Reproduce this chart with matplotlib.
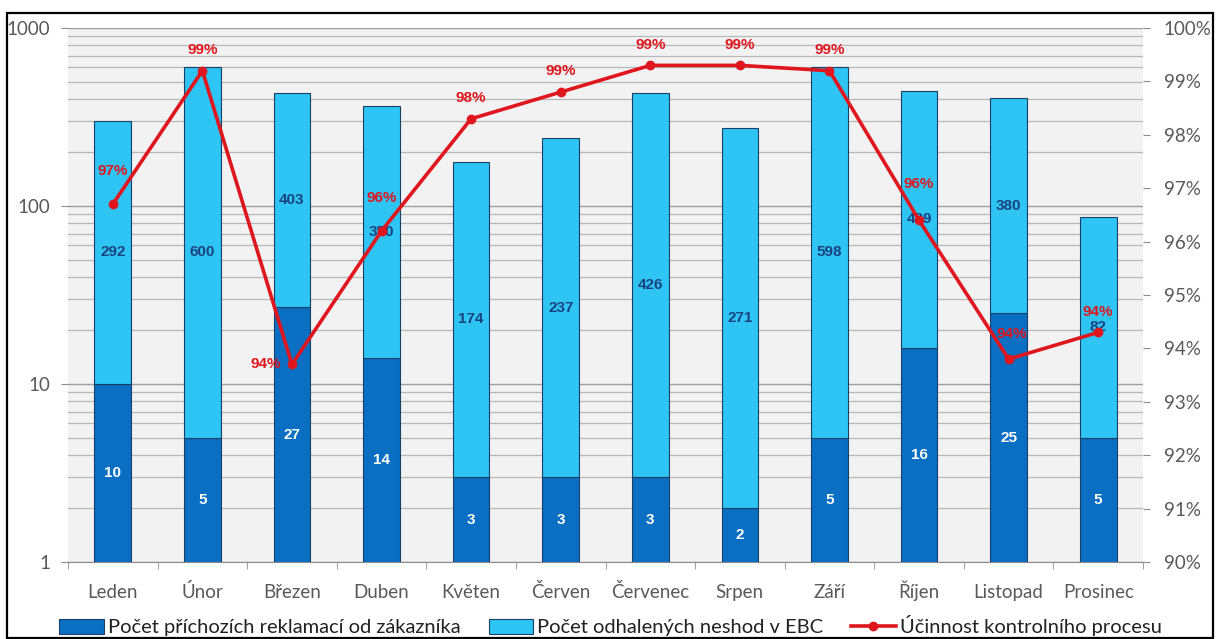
import matplotlib
matplotlib.use("Agg")
import matplotlib.pyplot as plt
import numpy as np
from matplotlib.patches import Rectangle
from matplotlib.lines import Line2D
from matplotlib.ticker import FixedLocator, NullFormatter

months = ["Leden", "Únor", "Březen", "Duben", "Květen", "Červen",
          "Červenec", "Srpen", "Září", "Říjen", "Listopad", "Prosinec"]
complaints = [10, 5, 27, 14, 3, 3, 3, 2, 5, 16, 25, 5]
detected = [292, 600, 403, 350, 174, 237, 426, 271, 598, 429, 380, 82]
efficiency = [96.7, 99.2, 93.7, 96.2, 98.3, 98.8, 99.3, 99.3, 99.2, 96.4, 93.8, 94.3]

label_dark = "Počet příchozích reklamací od zákazníka"
label_light = "Počet odhalených neshod v EBC"
label_line = "Účinnost kontrolního procesu"

DARK = "#0a6fc2"
LIGHT = "#2ec4f3"
EDGE = "#1b3f66"
RED = "#e0161e"
TXT = "#595959"
NUMFONT = ["Liberation Sans", "DejaVu Sans"]

plt.rcParams["font.family"] = ["Lato", "DejaVu Sans"]

fig = plt.figure(figsize=(12.21, 6.39), dpi=100)
fig.patches.append(Rectangle((7 / 1221, 0.002), 1206 / 1221, (626 - 1) / 639,
                             transform=fig.transFigure, fill=False,
                             edgecolor="black", linewidth=1.6, zorder=10))

ax = fig.add_axes([68 / 1221, 77 / 639, 1075 / 1221, 534 / 639])
ax.set_facecolor("#f2f2f2")
ax.set_yscale("log")
ax.set_ylim(1, 1000)
x = np.arange(len(months))
ax.set_xlim(-0.5, len(months) - 0.5)

# horizontal grid on every log decade step
ax.yaxis.set_minor_locator(FixedLocator([m * 10 ** d for d in range(0, 3) for m in range(2, 10)]))
ax.yaxis.set_minor_formatter(NullFormatter())
ax.grid(True, which="major", axis="y", color="#9e9e9e", linewidth=1.0, zorder=0)
ax.grid(True, which="minor", axis="y", color="#b8b8b8", linewidth=0.9, zorder=0)
ax.set_axisbelow(True)

bw = 0.41
ax.bar(x, complaints, width=bw, color=DARK, edgecolor=EDGE, linewidth=0.8, zorder=2)
ax.bar(x, detected, width=bw, bottom=complaints, color=LIGHT, edgecolor=EDGE,
       linewidth=0.8, zorder=2)

for xi, c, d in zip(x, complaints, detected):
    ax.text(xi, np.sqrt(c), str(c), ha="center", va="center", color="white",
            fontsize=11, fontweight="bold", family=NUMFONT, zorder=3)
    ax.text(xi, np.sqrt(c * (c + d)), str(d), ha="center", va="center",
            color="#1a4480", fontsize=11, fontweight="bold", family=NUMFONT, zorder=3)

for s in ["top", "right", "left"]:
    ax.spines[s].set_visible(False)
ax.spines["bottom"].set_color("#8c8c8c")
ax.set_xticks(x)
ax.set_xticklabels(months)
for lbl in ax.get_xticklabels():
    lbl.set_verticalalignment("baseline")
ax.set_xticks(np.arange(-0.5, len(months)), minor=True)
ax.tick_params(axis="x", which="major", length=0, pad=26, labelsize=13.5, labelcolor=TXT)
ax.tick_params(axis="x", which="minor", length=5, color="#8c8c8c")
ax.set_yticks([1, 10, 100, 1000])
ax.set_yticklabels(["1", "10", "100", "1000"])
ax.tick_params(axis="y", which="major", length=5, color="#8c8c8c", labelsize=13.5,
               labelcolor=TXT, pad=8)
ax.tick_params(axis="y", which="minor", length=0)

ax2 = ax.twinx()
ax2.set_ylim(90, 100)
ax2.set_yticks(np.arange(90, 101, 1))
ax2.set_yticklabels([f"{v}%" for v in range(90, 101)])
ax2.tick_params(axis="y", length=5, color="#8c8c8c", labelsize=13.5, labelcolor=TXT, pad=10)
for s in ["top", "right", "left", "bottom"]:
    ax2.spines[s].set_visible(False)
ax2.plot(x, efficiency, color=RED, linewidth=2.6, marker="o", markersize=6, zorder=5)

# label placement per point: (dx, dy) in points, horizontal alignment
offsets = {0: (0, 24), 2: (-8, 0), 3: (0, 24), 9: (0, 26), 10: (2, 18)}
for i, (xi, e) in enumerate(zip(x, efficiency)):
    dx, dy = offsets.get(i, (0, 15))
    ha = "right" if dx < 0 else "center"
    ax2.annotate(f"{round(e):.0f}%", (xi, e), xytext=(dx, dy), textcoords="offset points",
                 ha=ha, va="center", color=RED, fontsize=11, fontweight="bold",
                 family=NUMFONT, zorder=6)

handles = [
    Rectangle((0, 0), 1, 1, facecolor=DARK, edgecolor=EDGE, linewidth=0.8),
    Rectangle((0, 0), 1, 1, facecolor=LIGHT, edgecolor=EDGE, linewidth=0.8),
    Line2D([0], [0], color=RED, linewidth=2.6, marker="o", markersize=6),
]
fig.legend(handles, [label_dark, label_light, label_line], loc="center",
           bbox_to_anchor=(0.5, 13 / 639), ncol=3, frameon=False, fontsize=14.5,
           handlelength=2.2, handleheight=0.8, handletextpad=0.2, columnspacing=1.4,
           labelcolor="#222222")

fig.savefig("out.png", dpi=100, facecolor="white")
